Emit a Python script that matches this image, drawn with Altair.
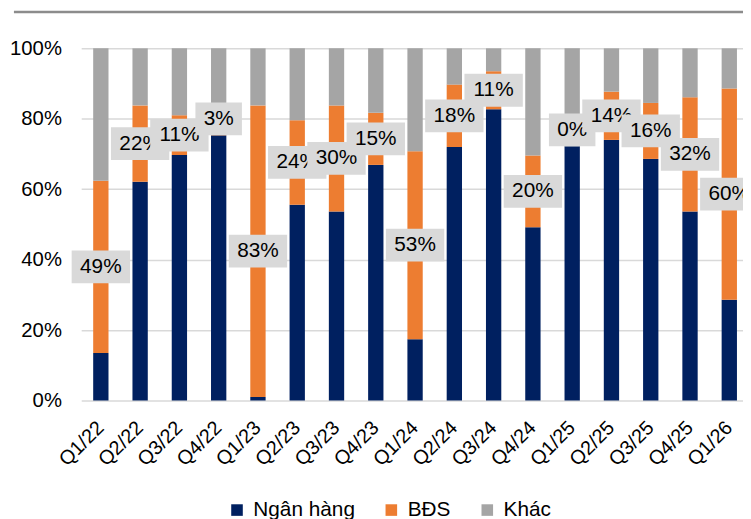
import altair as alt
import pandas as pd

quarters = ["Q1/22", "Q2/22", "Q3/22", "Q4/22", "Q1/23", "Q2/23", "Q3/23", "Q4/23",
            "Q1/24", "Q2/24", "Q3/24", "Q4/24", "Q1/25", "Q2/25", "Q3/25", "Q4/25", "Q1/26"]
ngan_hang = [13.5, 62.1, 69.7, 75.3, 1.0, 55.6, 53.7, 66.9, 17.4, 72.0, 82.7, 49.2,
             72.2, 74.0, 68.6, 53.7, 28.6]
bds = [48.9, 21.7, 11.3, 3.0, 82.8, 24.0, 30.1, 14.8, 53.4, 17.7, 10.8, 20.4,
       0.0, 13.7, 15.9, 32.4, 60.0]
khac = [round(100 - a - b, 1) for a, b in zip(ngan_hang, bds)]
series = ["Ngân hàng", "BĐS", "Khác"]
colors = ["#002060", "#ED7D31", "#A5A5A5"]
bds_labels = [f"{round(v)}%" for v in bds]

FONT = "Liberation Sans"

rows = []
for i, q in enumerate(quarters):
    for j, vals in enumerate([ngan_hang, bds, khac]):
        rows.append({"quarter": q, "series": series[j], "value": vals[i], "order": j})
df = pd.DataFrame(rows)

half = 4.65  # half label-box height in axis units
lab = pd.DataFrame({"quarter": quarters, "label": bds_labels})
lab["center"] = [max(b + v / 2, b + half) for b, v in zip(ngan_hang, bds)]
lab["lo"] = lab["center"] - half
lab["hi"] = lab["center"] + half

x_enc = alt.X("quarter:N", sort=quarters,
              scale=alt.Scale(paddingInner=0.61, paddingOuter=0.305),
              axis=alt.Axis(title=None, labelAngle=-45, labelAlign="right", labelBaseline="middle",
                            labelFontSize=20, labelPadding=24, ticks=False, domain=False,
                            grid=False, labelColor="#000000", labelFont=FONT))

bars = alt.Chart(df).mark_bar().encode(
    x=x_enc,
    y=alt.Y("value:Q", stack="zero",
            scale=alt.Scale(domain=[0, 100], nice=False),
            axis=alt.Axis(title=None, values=[0, 20, 40, 60, 80, 100],
                          labelExpr="datum.value + '%'", labelFontSize=20.5,
                          labelPadding=20, ticks=False, domain=False,
                          gridColor="#d9d9d9", gridWidth=1.5,
                          labelColor="#000000", labelFont=FONT)),
    color=alt.Color("series:N", sort=series,
                    scale=alt.Scale(domain=series, range=colors),
                    legend=alt.Legend(title=None, orient="none", legendX=147, legendY=456,
                                      direction="horizontal", symbolType="square",
                                      symbolSize=137, symbolStrokeWidth=0,
                                      labelFontSize=21, labelFont=FONT, labelColor="#000000",
                                      labelOffset=6, columnPadding=26)),
    order=alt.Order("order:Q", sort="ascending"),
)

top_line = alt.Chart(pd.DataFrame({"a": [0]})).mark_rule(color="#8c8c8c", strokeWidth=2.5).encode(
    x=alt.value(-68), x2=alt.value(669), y=alt.value(-36.8)
)

layers = [bars, top_line]
base = alt.Chart(lab)
for q in quarters:
    sub = base.transform_filter(alt.datum.quarter == q)
    box = sub.transform_calculate(bw="length(datum.label) * 12 + 23").mark_bar(
        color="#D9D9D9").encode(
        x=alt.X("quarter:N", sort=quarters),
        y=alt.Y("lo:Q"), y2="hi:Q",
        size=alt.Size("bw:Q", scale=None, legend=None),
    )
    txt = sub.mark_text(fontSize=21, font=FONT, color="#000000",
                        align="center", baseline="middle").encode(
        x=alt.X("quarter:N", sort=quarters),
        y=alt.Y("center:Q"),
        text="label:N",
    )
    layers += [box, txt]

chart = alt.layer(*layers).properties(
    width=675, height=356,
    autosize=alt.AutoSizeParams(type="none"),
    padding={"left": 74, "top": 38, "right": -6, "bottom": 117},
).configure_view(stroke=None)

chart.save("out.html", embed_options={"renderer": "svg", "actions": False})
